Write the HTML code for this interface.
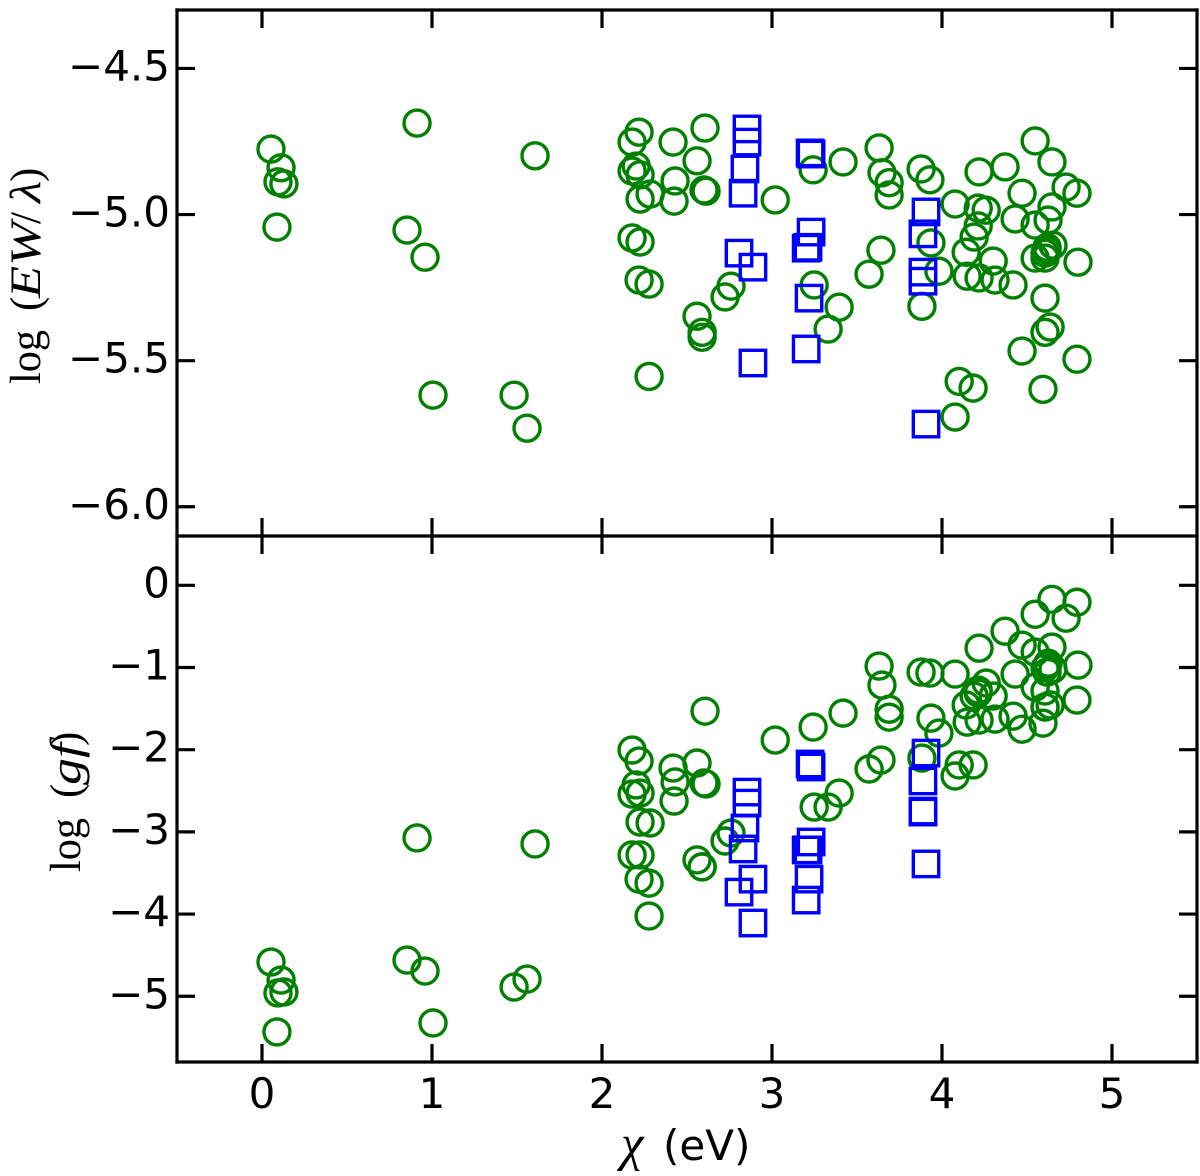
<!DOCTYPE html>
<html>
<head>
<meta charset="utf-8">
<title>Line list diagnostic chart</title>
<style>
html,body{margin:0;padding:0;background:#fff;}
svg{display:block;}
.tick{font-family:"DejaVu Sans","Liberation Sans",sans-serif;font-size:42px;fill:#000;}
.math{font-family:"Liberation Serif",serif;font-size:43px;fill:#000;}
.it{font-style:italic;}
</style>
</head>
<body>
<svg id="chart" width="1200" height="1176" viewBox="0 0 1200 1176" xmlns="http://www.w3.org/2000/svg">
<g id="marks-top"></g>
<g id="marks-bottom"></g>
<g id="axes"></g>
<g transform="translate(40,384) rotate(-90)">
  <text class="math" x="0" y="0" textLength="54" lengthAdjust="spacingAndGlyphs">log</text>
  <text class="math" x="73" y="0">(</text>
  <text class="math it" x="86" y="0" textLength="76" lengthAdjust="spacingAndGlyphs">EW</text>
  <text class="math" x="160" y="0">/</text>
  <text class="math it" x="181" y="0" textLength="22" lengthAdjust="spacingAndGlyphs">λ</text>
  <text class="math" x="202" y="0">)</text>
</g>
<g transform="translate(80,872) rotate(-90)">
  <text class="math" x="0" y="0" textLength="54" lengthAdjust="spacingAndGlyphs">log</text>
  <text class="math" x="74" y="0">(</text>
  <text class="math it" x="87" y="0" textLength="42" lengthAdjust="spacingAndGlyphs">gf</text>
  <text class="math" x="126" y="0">)</text>
</g>
<g>
  <text x="621" y="1160" style="font-family:'Liberation Serif',serif;font-style:italic;font-size:51px;fill:#000">χ</text>
  <text x="663" y="1160" style="font-family:'DejaVu Sans',sans-serif;font-size:42px;fill:#000">(eV)</text>
</g>
</svg>
<script>
const xTicks = [0, 1, 2, 3, 4, 5];
const ewTicks = [-4.5, -5.0, -5.5, -6.0];
const ewTickLabels = ["−4.5", "−5.0", "−5.5", "−6.0"];
const gfTicks = [0, -1, -2, -3, -4, -5];
const gfTickLabels = ["0", "−1", "−2", "−3", "−4", "−5"];

const neutralChi = [0.053,0.112,0.094,0.129,0.088,0.912,0.853,0.959,1.006,1.483,1.559,1.606,
2.177,2.218,2.201,2.177,2.224,2.224,2.283,2.177,2.224,2.218,2.277,2.277,
2.418,2.430,2.424,2.559,2.606,2.600,2.612,2.559,2.589,2.589,2.759,2.724,3.019,3.242,3.418,3.248,3.395,3.330,
3.630,3.647,3.689,3.689,3.641,3.571,3.877,3.929,3.882,3.935,3.982,4.077,4.077,4.101,4.183,4.218,4.371,4.548,4.647,4.471,4.730,4.794,4.647,4.548,4.430,4.260,4.213,4.213,4.189,4.142,4.301,4.148,4.218,4.312,4.418,
4.624,4.653,4.618,4.606,4.618,4.548,4.606,4.800,4.606,4.636,4.606,4.471,4.794,4.594];
const neutralEw = [-4.776,-4.840,-4.888,-4.895,-5.043,-4.687,-5.053,-5.146,-5.618,-5.618,-5.731,-4.799,
-4.752,-4.718,-4.834,-4.851,-4.864,-4.947,-4.930,-5.080,-5.094,-5.224,-5.238,-5.554,
-4.752,-4.885,-4.954,-4.816,-4.704,-4.916,-4.920,-5.348,-5.403,-5.420,-5.245,-5.282,-4.950,-4.847,-4.820,-5.241,-5.317,-5.392,
-4.772,-4.857,-4.891,-4.933,-5.122,-5.204,-4.844,-4.881,-5.314,-5.097,-5.194,-4.964,-5.693,-5.571,-5.594,-4.854,-4.837,-4.748,-4.820,-4.927,-4.906,-4.927,-4.974,-5.036,-5.015,-4.985,-4.978,-5.039,-5.077,-5.129,-5.159,-5.211,-5.217,-5.224,-5.241,
-5.019,-5.105,-5.112,-5.132,-5.122,-5.149,-5.149,-5.163,-5.286,-5.385,-5.403,-5.467,-5.495,-5.598];
const neutralGf = [-4.584,-4.803,-4.960,-4.948,-5.434,-3.074,-4.560,-4.693,-5.325,-4.888,-4.791,-3.147,
-2.004,-2.138,-2.429,-2.540,-2.528,-2.880,-2.892,-3.281,-3.281,-3.575,-3.624,-4.024,
-2.223,-2.393,-2.625,-2.162,-1.531,-2.405,-2.417,-3.341,-3.426,-3.426,-3.014,-3.111,-1.883,-1.725,-1.555,-2.698,-2.528,-2.698,
-0.983,-1.214,-1.507,-1.604,-2.126,-2.235,-1.056,-1.068,-2.102,-1.616,-1.798,-1.080,-2.320,-2.186,-2.186,-0.765,-0.558,-0.352,-0.170,-0.728,-0.400,-0.206,-0.752,-0.813,-1.080,-1.189,-1.274,-1.311,-1.347,-1.456,-1.347,-1.665,-1.640,-1.628,-1.592,
-0.947,-1.019,-0.971,-1.007,-1.056,-1.238,-1.286,-0.971,-1.481,-1.456,-1.481,-1.750,-1.396,-1.677];

const ionizedChi = [2.853,2.853,2.841,2.830,2.806,2.888,2.888,3.224,3.230,3.230,3.212,3.201,3.218,3.201,3.906,3.888,3.888,3.888,3.906];
const ionizedEw = [-4.707,-4.752,-4.844,-4.927,-5.132,-5.180,-5.508,-4.789,-4.793,-5.060,-5.112,-5.115,-5.286,-5.460,-4.991,-5.066,-5.197,-5.228,-5.717];
const ionizedGf = [-2.516,-2.650,-2.953,-3.208,-3.733,-3.575,-4.109,-2.174,-2.211,-3.123,-3.220,-3.220,-3.575,-3.830,-2.041,-2.381,-2.747,-2.759,-3.390];

const NS = "http://www.w3.org/2000/svg";
const plotLeft = 177, plotRight = 1197, topY = 10, midY = 536, bottomY = 1062;
const xMin = -0.5, xMax = 5.5;
const ewMin = -6.1, ewMax = -4.3;
const gfMin = -5.8, gfMax = 0.6;

function xScale(v){ return plotLeft + (v - xMin) / (xMax - xMin) * (plotRight - plotLeft); }
function ewScale(v){ return midY - (v - ewMin) / (ewMax - ewMin) * (midY - topY); }
function gfScale(v){ return bottomY - (v - gfMin) / (gfMax - gfMin) * (bottomY - midY); }

function drawLine(parent, x1, y1, x2, y2, sw){
  const l = document.createElementNS(NS, "line");
  
  
  l.setAttribute("x1", x1); l.setAttribute("y1", y1);
  l.setAttribute("x2", x2); l.setAttribute("y2", y2);
  l.setAttribute("stroke", "#000");
  l.setAttribute("stroke-width", sw);
  l.setAttribute("stroke-linecap", "square");
  parent.appendChild(l);
}
function drawTickLine(parent, x1, y1, x2, y2){
  const l = document.createElementNS(NS, "line");
  
  
  l.setAttribute("x1", x1); l.setAttribute("y1", y1);
  l.setAttribute("x2", x2); l.setAttribute("y2", y2);
  l.setAttribute("stroke", "#000");
  l.setAttribute("stroke-width", 3.2);
  parent.appendChild(l);
}
function drawTickLabel(parent, x, y, anchor, str){
  const t = document.createElementNS(NS, "text");
  
  
  t.setAttribute("class", "tick");
  t.setAttribute("x", x); t.setAttribute("y", y);
  t.setAttribute("text-anchor", anchor);
  t.textContent = str;
  parent.appendChild(t);
}
function drawCircles(parent, xs, ys, yScale){
  xs.forEach(function(v, i){
    const c = document.createElementNS(NS, "circle");
    
    
    c.setAttribute("cx", xScale(v));
    c.setAttribute("cy", yScale(ys[i]));
    c.setAttribute("r", 13);
    c.setAttribute("fill", "none");
    c.setAttribute("stroke", "#008000");
    c.setAttribute("stroke-width", 3.4);
    parent.appendChild(c);
  });
}
function drawSquares(parent, xs, ys, yScale){
  xs.forEach(function(v, i){
    const r = document.createElementNS(NS, "rect");
    
    
    r.setAttribute("x", xScale(v) - 12.7);
    r.setAttribute("y", yScale(ys[i]) - 12.7);
    r.setAttribute("width", 25.4);
    r.setAttribute("height", 25.4);
    r.setAttribute("fill", "none");
    r.setAttribute("stroke", "#0000ff");
    r.setAttribute("stroke-width", 3.4);
    parent.appendChild(r);
  });
}

const mt = document.getElementById("marks-top");
const mb = document.getElementById("marks-bottom");
const ax = document.getElementById("axes");
drawCircles(mt, neutralChi, neutralEw, ewScale);
drawSquares(mt, ionizedChi, ionizedEw, ewScale);
drawCircles(mb, neutralChi, neutralGf, gfScale);
drawSquares(mb, ionizedChi, ionizedGf, gfScale);

const tickLen = 18;
xTicks.forEach(function(v){
  const x = xScale(v);
  drawTickLine(ax, x, topY, x, topY + tickLen);
  drawTickLine(ax, x, midY - tickLen, x, midY);
  drawTickLine(ax, x, midY, x, midY + tickLen);
  drawTickLine(ax, x, bottomY - tickLen, x, bottomY);
  drawTickLabel(ax, x, 1108, "middle", String(v));
});
ewTicks.forEach(function(v, i){
  const y = ewScale(v);
  drawTickLine(ax, plotLeft, y, plotLeft + tickLen, y);
  drawTickLine(ax, plotRight - tickLen, y, plotRight, y);
  drawTickLabel(ax, 170, y + 12, "end", ewTickLabels[i]);
});
gfTicks.forEach(function(v, i){
  const y = gfScale(v);
  drawTickLine(ax, plotLeft, y, plotLeft + tickLen, y);
  drawTickLine(ax, plotRight - tickLen, y, plotRight, y);
  drawTickLabel(ax, 170, y + 12, "end", gfTickLabels[i]);
});
drawLine(ax, plotLeft, topY, plotRight, topY, 3.2);
drawLine(ax, plotLeft, midY, plotRight, midY, 3.2);
drawLine(ax, plotLeft, bottomY, plotRight, bottomY, 3.2);
drawLine(ax, plotLeft, topY, plotLeft, bottomY, 3.2);
drawLine(ax, plotRight, topY, plotRight, bottomY, 3.2);
</script>
</body>
</html>
